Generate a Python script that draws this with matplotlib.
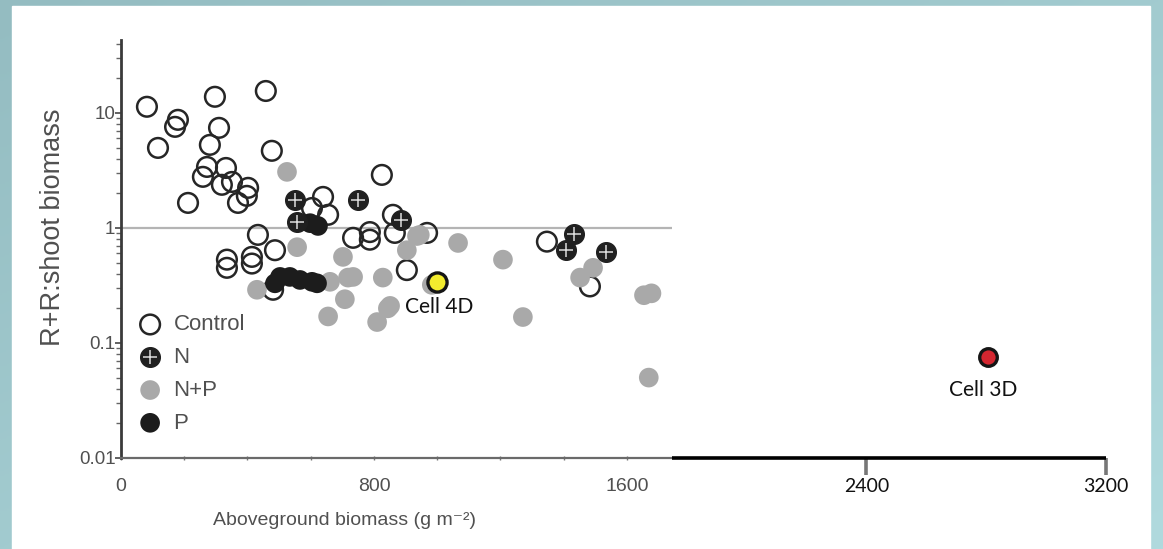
import numpy as np
import matplotlib
matplotlib.use('Agg')
import matplotlib.pyplot as plt
from matplotlib.patches import Rectangle
from matplotlib.legend_handler import HandlerTuple

# values
ctrl_x = [82, 117, 180, 171, 297, 458, 310, 281, 477, 272, 259, 332, 319, 351, 402, 398, 370, 212, 825,
          639, 655, 860, 968, 433, 487, 335, 335, 414, 414, 734, 787, 787, 866, 904, 481, 1347, 1483, 604]
ctrl_y = [11.3, 4.96, 8.7, 7.56, 13.8, 15.5, 7.41, 5.27, 4.68, 3.39, 2.78, 3.32, 2.37, 2.51, 2.23, 1.90,
          1.65, 1.65, 2.89, 1.86, 1.30, 1.30, 0.905, 0.87, 0.64, 0.53, 0.45, 0.56, 0.49, 0.82, 0.92, 0.79,
          0.905, 0.43, 0.29, 0.76, 0.31, 1.49]
n_x = [550, 557, 749, 885, 1432, 1407, 1534]
n_y = [1.75, 1.13, 1.75, 1.17, 0.89, 0.64, 0.62]
np_x = [525, 557, 702, 718, 661, 828, 430, 708, 851, 945, 904, 1066, 1208, 734, 844, 810, 1271, 655,
        1452, 1493, 1657, 1682, 1673, 983, 936]
np_y = [3.07, 0.68, 0.56, 0.37, 0.34, 0.37, 0.29, 0.24, 0.21, 0.87, 0.64, 0.74, 0.53, 0.375, 0.20, 0.152,
        0.168, 0.17, 0.37, 0.45, 0.26, 0.27, 0.05, 0.32, 0.85]
p_x = [487, 503, 534, 566, 604, 620, 598, 623]
p_y = [0.33, 0.375, 0.375, 0.353, 0.34, 0.33, 1.10, 1.04]
cells = ['Cell 4D', 'Cell 3D']
cell_x = [999, 2805]
cell_y = [0.34, 0.0755]
cell_colors = ['#f3ec2e', '#d42630']

x_ticks = [0, 800, 1600, 2400, 3200]
y_ticks = [0.01, 0.1, 1, 10]
y_ticklabels = ['0.01', '0.1', '1', '10']

GRAY_TXT = '#505050'
SANS = ['Liberation Sans', 'DejaVu Sans']
CAL = ['Lato', 'DejaVu Sans']

# the hand-drawn extension past 1600 is a bit more compressed
k = 0.947
def fwd(x):
    x = np.asarray(x, dtype=float)
    return np.where(x <= 1600, x, 1600 + (x - 1600) * k)
def inv(t):
    t = np.asarray(t, dtype=float)
    return np.where(t <= 1600, t, 1600 + (t - 1600) / k)

fig = plt.figure(figsize=(11.63, 5.49), dpi=100)

# teal border + white panel
bg = fig.add_axes([0, 0, 1, 1], zorder=-10)
g = np.linspace(0, 1, 256)
grad = np.add.outer(g, g) / 2
bg.imshow(grad, extent=[0, 1, 0, 1], aspect='auto', origin='upper',
          cmap=matplotlib.colors.LinearSegmentedColormap.from_list('t', ['#94bcc1', '#b0dade']))
bg.add_patch(Rectangle((12 / 1163, 0), (1150 - 12) / 1163, 543 / 549, color='white'))
bg.set_xlim(0, 1)
bg.set_ylim(0, 1)
bg.axis('off')

ax = fig.add_axes([121 / 1163, 91 / 549, 985 / 1163, 418 / 549])
ax.set_facecolor('none')
ax.set_yscale('log')
ax.set_xscale('function', functions=(fwd, inv))
ax.set_xlim(0, 3200)
ax.set_ylim(0.01, 43)

ax.hlines(1, 0, 1750, color='#b4b4b4', lw=1.6, zorder=1)

ms = 200
ax.scatter(ctrl_x, ctrl_y, s=ms, facecolors='none', edgecolors='#262626', linewidths=1.8, zorder=3)
h_np = ax.scatter(np_x, np_y, s=ms, color='#a9a9a9', edgecolors='none', zorder=3)
h_p = ax.scatter(p_x, p_y, s=ms, color='#1c1c1c', edgecolors='none', zorder=4)
h_n1 = ax.scatter(n_x, n_y, s=ms, color='#202020', edgecolors='#202020', linewidths=1, zorder=5)
h_n2 = ax.scatter(n_x, n_y, s=100, marker='+', color='#dddddd', linewidths=1.1, zorder=6)
h_c = ax.scatter([], [], s=ms, facecolors='none', edgecolors='#262626', linewidths=1.8)

for i, name in enumerate(cells):
    ax.scatter(cell_x[i], cell_y[i], s=190 if i == 0 else 160, color=cell_colors[i],
               edgecolors='#151515', linewidths=2.4, zorder=7)
offs = [(2, -18), (-3.6, -24)]
for i, name in enumerate(cells):
    ax.annotate(name, (cell_x[i], cell_y[i]), xytext=offs[i], textcoords='offset points',
                ha='center', va='center', fontsize=15, family=CAL, color='#111111')

# spines
for s in ['top', 'right']:
    ax.spines[s].set_visible(False)
ax.spines['left'].set_color('#3a3a3a')
ax.spines['left'].set_linewidth(2)
ax.spines['bottom'].set_color('#6a6a6a')
ax.spines['bottom'].set_linewidth(1.6)
ax.spines['bottom'].set_bounds(0, 1750)
ax.hlines(0.01, 1750, 3200, color='black', lw=2.6, clip_on=False, zorder=5)

# y axis ticks
ax.set_yticks(y_ticks)
ax.set_yticklabels(y_ticklabels, family=SANS, fontsize=13.5, color=GRAY_TXT)
ax.tick_params(axis='y', which='major', length=4, width=1.3, color='#555555', pad=0)
ax.tick_params(axis='y', which='minor', length=3.5, width=1.0, color='#666666')

# x axis ticks
ax.set_xticks(x_ticks)
ax.set_xticklabels([str(v) for v in x_ticks], fontsize=14, family=SANS, color=GRAY_TXT)
ax.set_xticks([200, 400, 600, 1000, 1200, 1400], minor=True)
ax.tick_params(axis='x', which='minor', length=3, width=1, color='#777777', direction='inout')
ax.tick_params(axis='x', which='major', length=3, width=1, color='#777777', pad=13, direction='inout')
for tick, lab in zip(ax.xaxis.get_major_ticks(), ax.get_xticklabels()):
    if float(lab.get_text()) > 1600:
        tick.tick1line.set_markersize(12)
        tick.tick1line.set_markeredgewidth(2.6)
        tick.tick1line.set_color('black')
        tick.tick1line.set_marker(3)
        lab.set_color('#111111')
        lab.set_family(CAL)
        lab.set_fontsize(14)

ax.set_xlabel('Aboveground biomass (g m⁻²)', fontsize=14, family=SANS, color=GRAY_TXT)
ax.xaxis.set_label_coords(0.227, -0.13)
ax.set_ylabel('R+R:shoot biomass', fontsize=19.5, family=SANS, color=GRAY_TXT)
ax.yaxis.set_label_coords(-0.056, 0.553)

leg = ax.legend([h_c, (h_n1, h_n2), h_np, h_p], ['Control', 'N', 'N+P', 'P'],
                handler_map={tuple: HandlerTuple(ndivide=1, pad=0)},
                loc='lower left', bbox_to_anchor=(0.007, 0.037), frameon=False,
                prop={'family': SANS, 'size': 16}, labelcolor=GRAY_TXT,
                handletextpad=0.45, labelspacing=0.53, borderaxespad=0, handlelength=1.2)

fig.savefig('out.png', dpi=100)
